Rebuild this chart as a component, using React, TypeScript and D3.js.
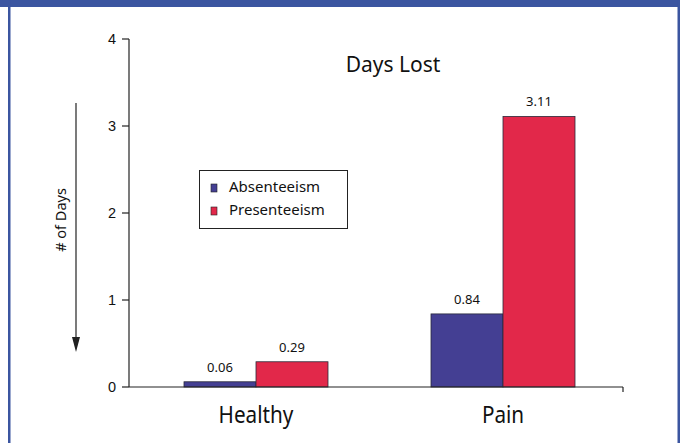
import React from "react";
import * as d3 from "d3";

// Days lost per employee, by health group
const categories = ["Healthy", "Pain"];
const seriesNames = ["Absenteeism", "Presenteeism"];
const absenteeism = [0.06, 0.84];
const presenteeism = [0.29, 3.11];
const yTicks = [0, 1, 2, 3, 4];
const seriesColors = ["#443F93", "#E2284A"];

const W = 680;
const H = 443;

export default function App() {
  const y = d3.scaleLinear().domain([0, 4]).range([387, 39]);
  const axisX0 = 129;
  const axisX1 = 623;
  const x = d3.scaleBand<string>().domain(categories).range([axisX0 + 3.5, axisX1 + 3.5]).paddingInner(0).paddingOuter(0);
  const barW = 72;
  const sub = d3.scaleBand<string>().domain(seriesNames).range([-barW, barW]);
  const values = [absenteeism, presenteeism];

  const sans = "'Noto Sans', 'Open Sans', sans-serif";
  const helv = "'Liberation Sans', Arial, sans-serif";

  return (
    <svg width={W} height={H} style={{ position: "absolute", left: 0, top: 0, background: "#fff" }}>
      {/* frame */}
      <rect x={0} y={0} width={W} height={7} fill="#3B55A0" />
      <rect x={8} y={0} width={2.5} height={H} fill="#3B55A0" />
      <rect x={677.5} y={0} width={2.5} height={H} fill="#3B55A0" />

      {/* title */}
      <text x={393} y={72} textAnchor="middle" fontFamily={sans} fontSize={21} fill="#111">
        Days Lost
      </text>

      {/* y axis */}
      <line x1={axisX0} x2={axisX0} y1={y(4)} y2={y(0)} stroke="#222" strokeWidth={1.2} />
      {yTicks.map((t) => (
        <g key={t}>
          <line x1={axisX0 - 7} x2={axisX0} y1={y(t)} y2={y(t)} stroke="#222" strokeWidth={1.2} />
          <text x={axisX0 - 13} y={y(t) + 5} textAnchor="end" fontFamily={helv} fontSize={14.5} fill="#111">
            {t}
          </text>
        </g>
      ))}

      {/* y axis label with arrow */}
      <text
        transform={`translate(66, 220) rotate(-90)`}
        textAnchor="middle"
        fontFamily={sans}
        fontSize={14.5}
        fill="#111"
      >
        # of Days
      </text>
      <line x1={76} x2={76} y1={103} y2={342} stroke="#222" strokeWidth={1.2} />
      <path d="M72,337 L80,337 L76,352 Z" fill="#222" />

      {/* bars */}
      {categories.map((c, ci) => {
        const cx = (x(c) as number) + x.bandwidth() / 2;
        return (
          <g key={c}>
            {seriesNames.map((s, si) => {
              const v = values[si][ci];
              const bx = cx + (sub(s) as number);
              return (
                <g key={s}>
                  <rect
                    x={bx}
                    y={y(v)}
                    width={sub.bandwidth()}
                    height={y(0) - y(v)}
                    fill={seriesColors[si]}
                    stroke="#2a2a3a"
                    strokeWidth={0.8}
                  />
                  <text
                    x={bx + sub.bandwidth() / 2}
                    y={y(v) - 10}
                    textAnchor="middle"
                    fontFamily={sans}
                    fontSize={13}
                    fill="#111"
                  >
                    {v.toFixed(2)}
                  </text>
                </g>
              );
            })}
            <text
              transform={`translate(${cx}, 423) scale(0.9, 1)`}
              textAnchor="middle"
              fontFamily={sans}
              fontSize={23}
              fill="#111"
            >
              {c}
            </text>
          </g>
        );
      })}

      {/* x axis */}
      <line x1={axisX0} x2={axisX1} y1={y(0)} y2={y(0)} stroke="#222" strokeWidth={1.2} />
      <line x1={axisX1} x2={axisX1} y1={y(0)} y2={y(0) + 5} stroke="#222" strokeWidth={1.2} />

      {/* legend */}
      <rect x={199.5} y={170.5} width={148} height={58} fill="#fff" stroke="#222" strokeWidth={1} />
      {seriesNames.map((s, i) => (
        <g key={s}>
          <rect x={211} y={184 + i * 23} width={6} height={8} fill={seriesColors[i]} stroke="#222" strokeWidth={0.6} />
          <text x={229} y={192 + i * 23} fontFamily={sans} fontSize={15} fill="#111">
            {s}
          </text>
        </g>
      ))}
    </svg>
  );
}
